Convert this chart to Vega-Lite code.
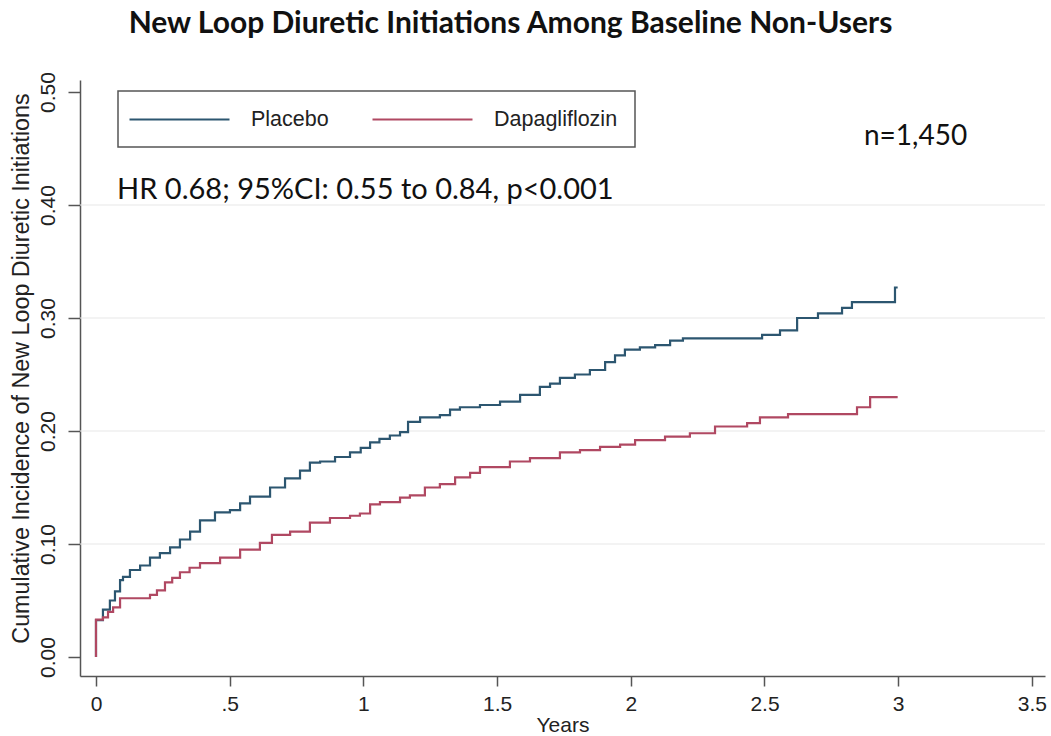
{
  "$schema": "https://vega.github.io/schema/vega-lite/v6.json",
  "autosize": "none",
  "padding": {"left": 80, "top": 80, "right": 6, "bottom": 60},
  "width": 965,
  "height": 596,
  "background": "white",
  "title": {
    "text": "New Loop Diuretic Initiations Among Baseline Non-Users",
    "font": "Lato",
    "fontSize": 30,
    "fontWeight": "bold",
    "color": "#111111",
    "anchor": "middle",
    "dx": -52,
    "offset": 33
  },
  "config": {
    "view": {"stroke": null},
    "legend": {"strokeWidth": 1.5}
  },
  "layer": [
    {
      "data": {"values": [{"g": 0.1}, {"g": 0.2}, {"g": 0.3}, {"g": 0.4}]},
      "mark": {"type": "rule", "color": "#e8e8e8", "strokeWidth": 1.2},
      "encoding": {
        "y": {"field": "g", "type": "quantitative", "scale": {"domain": [-0.0168, 0.5106], "nice": false, "zero": false}}
      }
    },
    {
      "data": {"values": [
        {"t": 0, "ci": 0, "arm": "Placebo"},
        {"t": 0, "ci": 0.0327, "arm": "Placebo"},
        {"t": 0.026, "ci": 0.042, "arm": "Placebo"},
        {"t": 0.052, "ci": 0.050, "arm": "Placebo"},
        {"t": 0.071, "ci": 0.058, "arm": "Placebo"},
        {"t": 0.090, "ci": 0.068, "arm": "Placebo"},
        {"t": 0.101, "ci": 0.071, "arm": "Placebo"},
        {"t": 0.127, "ci": 0.077, "arm": "Placebo"},
        {"t": 0.165, "ci": 0.081, "arm": "Placebo"},
        {"t": 0.202, "ci": 0.088, "arm": "Placebo"},
        {"t": 0.239, "ci": 0.092, "arm": "Placebo"},
        {"t": 0.277, "ci": 0.097, "arm": "Placebo"},
        {"t": 0.314, "ci": 0.104, "arm": "Placebo"},
        {"t": 0.352, "ci": 0.111, "arm": "Placebo"},
        {"t": 0.389, "ci": 0.121, "arm": "Placebo"},
        {"t": 0.445, "ci": 0.128, "arm": "Placebo"},
        {"t": 0.501, "ci": 0.130, "arm": "Placebo"},
        {"t": 0.539, "ci": 0.136, "arm": "Placebo"},
        {"t": 0.576, "ci": 0.142, "arm": "Placebo"},
        {"t": 0.651, "ci": 0.150, "arm": "Placebo"},
        {"t": 0.707, "ci": 0.158, "arm": "Placebo"},
        {"t": 0.763, "ci": 0.165, "arm": "Placebo"},
        {"t": 0.800, "ci": 0.172, "arm": "Placebo"},
        {"t": 0.838, "ci": 0.173, "arm": "Placebo"},
        {"t": 0.894, "ci": 0.177, "arm": "Placebo"},
        {"t": 0.950, "ci": 0.181, "arm": "Placebo"},
        {"t": 0.990, "ci": 0.185, "arm": "Placebo"},
        {"t": 1.025, "ci": 0.190, "arm": "Placebo"},
        {"t": 1.060, "ci": 0.193, "arm": "Placebo"},
        {"t": 1.099, "ci": 0.196, "arm": "Placebo"},
        {"t": 1.137, "ci": 0.199, "arm": "Placebo"},
        {"t": 1.167, "ci": 0.208, "arm": "Placebo"},
        {"t": 1.212, "ci": 0.212, "arm": "Placebo"},
        {"t": 1.286, "ci": 0.214, "arm": "Placebo"},
        {"t": 1.324, "ci": 0.219, "arm": "Placebo"},
        {"t": 1.361, "ci": 0.221, "arm": "Placebo"},
        {"t": 1.436, "ci": 0.223, "arm": "Placebo"},
        {"t": 1.511, "ci": 0.226, "arm": "Placebo"},
        {"t": 1.586, "ci": 0.232, "arm": "Placebo"},
        {"t": 1.660, "ci": 0.239, "arm": "Placebo"},
        {"t": 1.698, "ci": 0.242, "arm": "Placebo"},
        {"t": 1.735, "ci": 0.247, "arm": "Placebo"},
        {"t": 1.791, "ci": 0.250, "arm": "Placebo"},
        {"t": 1.847, "ci": 0.254, "arm": "Placebo"},
        {"t": 1.904, "ci": 0.261, "arm": "Placebo"},
        {"t": 1.941, "ci": 0.267, "arm": "Placebo"},
        {"t": 1.978, "ci": 0.272, "arm": "Placebo"},
        {"t": 2.034, "ci": 0.274, "arm": "Placebo"},
        {"t": 2.091, "ci": 0.276, "arm": "Placebo"},
        {"t": 2.147, "ci": 0.280, "arm": "Placebo"},
        {"t": 2.195, "ci": 0.282, "arm": "Placebo"},
        {"t": 2.491, "ci": 0.285, "arm": "Placebo"},
        {"t": 2.558, "ci": 0.289, "arm": "Placebo"},
        {"t": 2.622, "ci": 0.300, "arm": "Placebo"},
        {"t": 2.700, "ci": 0.304, "arm": "Placebo"},
        {"t": 2.790, "ci": 0.309, "arm": "Placebo"},
        {"t": 2.827, "ci": 0.314, "arm": "Placebo"},
        {"t": 2.988, "ci": 0.327, "arm": "Placebo"},
        {"t": 2.998, "ci": 0.327, "arm": "Placebo"},
        {"t": 0, "ci": 0, "arm": "Dapagliflozin"},
        {"t": 0, "ci": 0.033, "arm": "Dapagliflozin"},
        {"t": 0.026, "ci": 0.035, "arm": "Dapagliflozin"},
        {"t": 0.045, "ci": 0.040, "arm": "Dapagliflozin"},
        {"t": 0.064, "ci": 0.044, "arm": "Dapagliflozin"},
        {"t": 0.090, "ci": 0.052, "arm": "Dapagliflozin"},
        {"t": 0.202, "ci": 0.055, "arm": "Dapagliflozin"},
        {"t": 0.228, "ci": 0.059, "arm": "Dapagliflozin"},
        {"t": 0.258, "ci": 0.066, "arm": "Dapagliflozin"},
        {"t": 0.285, "ci": 0.070, "arm": "Dapagliflozin"},
        {"t": 0.314, "ci": 0.075, "arm": "Dapagliflozin"},
        {"t": 0.350, "ci": 0.079, "arm": "Dapagliflozin"},
        {"t": 0.389, "ci": 0.083, "arm": "Dapagliflozin"},
        {"t": 0.464, "ci": 0.088, "arm": "Dapagliflozin"},
        {"t": 0.539, "ci": 0.095, "arm": "Dapagliflozin"},
        {"t": 0.613, "ci": 0.101, "arm": "Dapagliflozin"},
        {"t": 0.658, "ci": 0.108, "arm": "Dapagliflozin"},
        {"t": 0.726, "ci": 0.111, "arm": "Dapagliflozin"},
        {"t": 0.800, "ci": 0.119, "arm": "Dapagliflozin"},
        {"t": 0.875, "ci": 0.123, "arm": "Dapagliflozin"},
        {"t": 0.950, "ci": 0.125, "arm": "Dapagliflozin"},
        {"t": 0.987, "ci": 0.127, "arm": "Dapagliflozin"},
        {"t": 1.025, "ci": 0.135, "arm": "Dapagliflozin"},
        {"t": 1.062, "ci": 0.137, "arm": "Dapagliflozin"},
        {"t": 1.137, "ci": 0.141, "arm": "Dapagliflozin"},
        {"t": 1.174, "ci": 0.143, "arm": "Dapagliflozin"},
        {"t": 1.230, "ci": 0.150, "arm": "Dapagliflozin"},
        {"t": 1.286, "ci": 0.153, "arm": "Dapagliflozin"},
        {"t": 1.343, "ci": 0.159, "arm": "Dapagliflozin"},
        {"t": 1.399, "ci": 0.163, "arm": "Dapagliflozin"},
        {"t": 1.436, "ci": 0.168, "arm": "Dapagliflozin"},
        {"t": 1.548, "ci": 0.173, "arm": "Dapagliflozin"},
        {"t": 1.623, "ci": 0.176, "arm": "Dapagliflozin"},
        {"t": 1.735, "ci": 0.181, "arm": "Dapagliflozin"},
        {"t": 1.810, "ci": 0.183, "arm": "Dapagliflozin"},
        {"t": 1.885, "ci": 0.186, "arm": "Dapagliflozin"},
        {"t": 1.960, "ci": 0.188, "arm": "Dapagliflozin"},
        {"t": 2.016, "ci": 0.192, "arm": "Dapagliflozin"},
        {"t": 2.128, "ci": 0.195, "arm": "Dapagliflozin"},
        {"t": 2.221, "ci": 0.198, "arm": "Dapagliflozin"},
        {"t": 2.315, "ci": 0.204, "arm": "Dapagliflozin"},
        {"t": 2.435, "ci": 0.207, "arm": "Dapagliflozin"},
        {"t": 2.483, "ci": 0.212, "arm": "Dapagliflozin"},
        {"t": 2.588, "ci": 0.215, "arm": "Dapagliflozin"},
        {"t": 2.846, "ci": 0.221, "arm": "Dapagliflozin"},
        {"t": 2.895, "ci": 0.230, "arm": "Dapagliflozin"},
        {"t": 2.998, "ci": 0.230, "arm": "Dapagliflozin"}
      ]},
      "mark": {"type": "line", "interpolate": "step-after", "strokeWidth": 2.2},
      "encoding": {
        "x": {
          "field": "t", "type": "quantitative",
          "scale": {"domain": [-0.0598, 3.549], "nice": false, "zero": false},
          "axis": {
            "values": [0, 0.5, 1, 1.5, 2, 2.5, 3, 3.5],
            "labelExpr": "datum.value == 0.5 ? '.5' : '' + datum.value",
            "title": "Years",
            "titleFont": "Liberation Sans",
            "titleFontSize": 21,
            "titleFontWeight": "normal",
            "titleColor": "#222222",
            "titlePadding": 0,
            "labelFont": "Liberation Sans",
            "labelFontSize": 21,
            "labelColor": "#222222",
            "labelPadding": 7,
            "tickSize": 10,
            "tickColor": "#555555",
            "tickWidth": 1.5,
            "domainColor": "#555555",
            "domainWidth": 1.5,
            "grid": false,
            "labelFlush": false
          }
        },
        "y": {
          "field": "ci", "type": "quantitative",
          "scale": {"domain": [-0.0168, 0.5106], "nice": false, "zero": false},
          "axis": {
            "values": [0, 0.1, 0.2, 0.3, 0.4, 0.5],
            "format": ".2f",
            "title": "Cumulative Incidence of New Loop Diuretic Initiations",
            "titleFont": "Liberation Sans",
            "titleFontSize": 23.3,
            "titleFontWeight": "normal",
            "titleColor": "#222222",
            "titlePadding": 4,
            "titleY": 288,
            "labelFont": "Liberation Sans",
            "labelFontSize": 21,
            "labelColor": "#222222",
            "labelAngle": -90,
            "labelAlign": "center",
            "labelBaseline": "alphabetic",
            "labelPadding": 14,
            "tickSize": 12,
            "tickColor": "#555555",
            "tickWidth": 1.5,
            "domainColor": "#555555",
            "domainWidth": 1.5,
            "grid": false,
            "labelFlush": false
          }
        },
        "stroke": {
          "field": "arm", "type": "nominal",
          "scale": {"domain": ["Placebo", "Dapagliflozin"], "range": ["#2c5670", "#b04862"]},
          "legend": {
            "title": null,
            "orient": "none",
            "legendX": 38,
            "legendY": 11,
            "direction": "horizontal",
            "padding": 17,
            "strokeColor": "#555555",
            "fillColor": "white",
            "symbolType": "M-5,0H5",
            "symbolSize": 400,
            "symbolOffset": 33,
            "symbolStrokeWidth": 2.2,
            "labelOffset": 60,
            "labelFont": "Liberation Sans",
            "labelFontSize": 21.5,
            "labelColor": "#222222",
            "columnPadding": 39
          }
        }
      }
    },
    {
      "data": {"values": [{"label": "HR 0.68; 95%CI: 0.55 to 0.84, p<0.001", "t": 0.079, "ci": 0.4053}]},
      "mark": {"type": "text", "font": "Lato", "fontSize": 29, "align": "left", "baseline": "alphabetic", "color": "#111111"},
      "encoding": {
        "x": {"field": "t", "type": "quantitative"},
        "y": {"field": "ci", "type": "quantitative"},
        "text": {"field": "label"}
      }
    },
    {
      "data": {"values": [{"label": "n=1,450", "t": 2.872, "ci": 0.453}]},
      "mark": {"type": "text", "font": "Lato", "fontSize": 28, "align": "left", "baseline": "alphabetic", "color": "#111111"},
      "encoding": {
        "x": {"field": "t", "type": "quantitative"},
        "y": {"field": "ci", "type": "quantitative"},
        "text": {"field": "label"}
      }
    }
  ]
}
